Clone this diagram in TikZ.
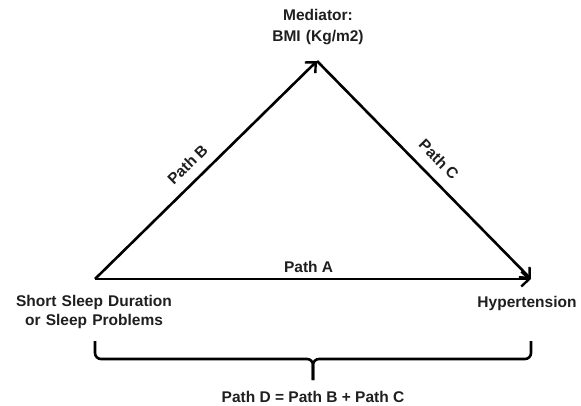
\documentclass[tikz,border=0pt]{standalone}
\usepackage{fontspec}
\setmainfont{Liberation Sans}
\usetikzlibrary{arrows.meta}
\begin{document}
\begin{tikzpicture}[x=1pt,y=-1pt,
  lbl/.style={font=\bfseries\fontsize{15.5}{19}\selectfont, text=black!88, inner sep=0pt, align=center},
  plbl/.style={font=\bfseries\fontsize{15.5}{19}\selectfont, text=black!88, inner sep=0pt, sloped},
  conn/.style={line width=2.6pt, -{Straight Barb[length=8pt,width=15pt,line width=2.4pt]}},
  bracket/.style={line width=2.6pt, rounded corners=6pt}]
\useasboundingbox (0,0) rectangle (581,406);
\coordinate (A) at (95,279);
\coordinate (M) at (317,61);
\coordinate (H) at (531,279);
\coordinate (BL) at (95,341);
\coordinate (BR) at (531,341);
\coordinate (Bmid) at (313,359);
\coordinate (tip) at (313,380);

\node[lbl, text width=200pt] (med) at (318,27.5) {Mediator:\\[2pt]BMI (Kg/m2)};
\node[lbl, text width=200pt] (src) at (94,312) {Short Sleep Duration\\or Sleep Problems};
\node[lbl] (hyp) at (527,303) {Hypertension};
\node[lbl] (pd) at (313,397) {Path D = Path B + Path C};

\draw[conn] (A) -- node[plbl, above=10pt, pos=0.47] (pb) {Path B} (M);
\draw[conn] (M) -- node[plbl, above=11pt, pos=0.51] (pc) {Path C} (H);
\draw[conn] (A) -- node[plbl, above=5pt, pos=0.49] (pa) {Path A} (H);

\draw[bracket] (BL) |- (Bmid) -- (tip);
\draw[bracket] (BR) |- (Bmid) -- (tip);
\end{tikzpicture}
\end{document}
